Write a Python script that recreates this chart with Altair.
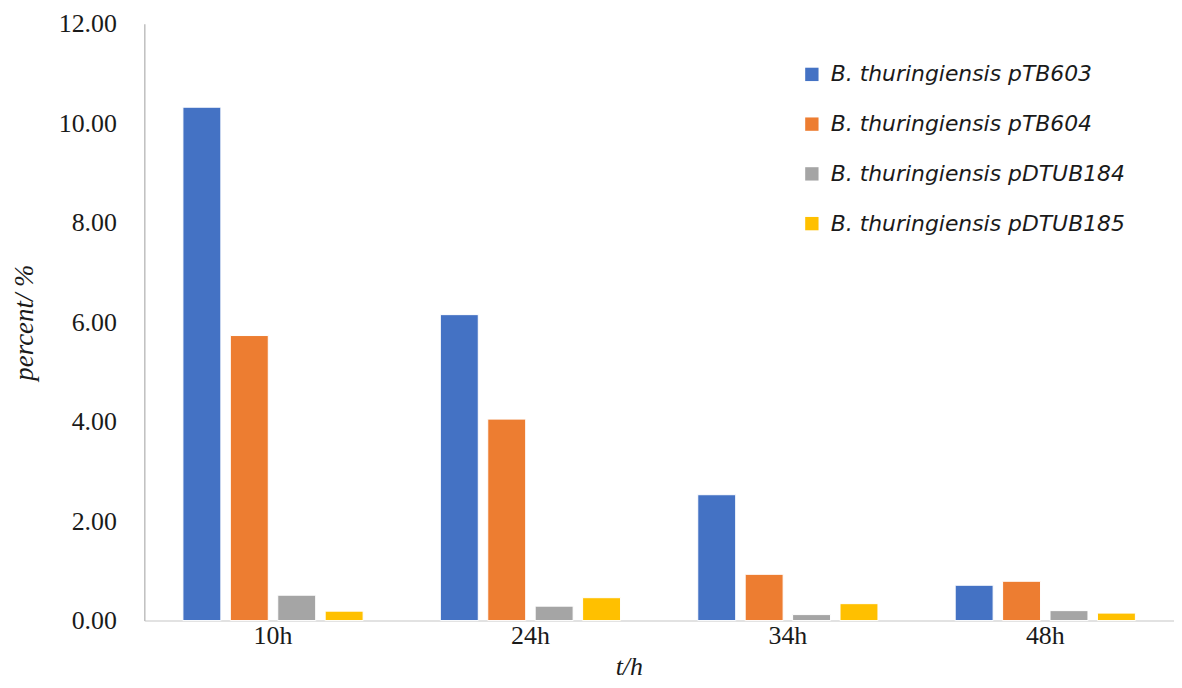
import altair as alt
import pandas as pd

times = ["10h", "24h", "34h", "48h"]
series = [
    "B. thuringiensis pTB603",
    "B. thuringiensis pTB604",
    "B. thuringiensis pDTUB184",
    "B. thuringiensis pDTUB185",
]
pTB603 = [10.32, 6.15, 2.53, 0.71]
pTB604 = [5.73, 4.05, 0.93, 0.79]
pDTUB184 = [0.51, 0.29, 0.12, 0.20]
pDTUB185 = [0.19, 0.46, 0.34, 0.15]
colors = ["#4472C4", "#ED7D31", "#A5A5A5", "#FFC000"]

SERIF = "Liberation Serif"

rows = []
for s, vals in zip(series, [pTB603, pTB604, pDTUB184, pDTUB185]):
    for t, v in zip(times, vals):
        rows.append({"time": t, "series": s, "value": v})
df = pd.DataFrame(rows)

chart = alt.Chart(df).mark_bar(stroke="white", strokeWidth=1).encode(
    x=alt.X("time:N", sort=times, title="t/h",
            scale=alt.Scale(paddingInner=0.3, paddingOuter=0.15),
            axis=alt.Axis(labelAngle=0, labelFont=SERIF, labelFontSize=26,
                          labelColor="#1a1a1a", labelPadding=2, ticks=False,
                          domainColor="#d9d9d9", domainWidth=1.5,
                          titleFont=SERIF, titleFontSize=26, titleFontStyle="italic",
                          titleFontWeight="normal", titleColor="#1a1a1a", titlePadding=5,
                          titleX=487)),
    xOffset=alt.XOffset("series:N", sort=series,
                        scale=alt.Scale(paddingInner=0.2, paddingOuter=0)),
    y=alt.Y("value:Q", title="percent/ %",
            scale=alt.Scale(domain=[0, 12], nice=False),
            axis=alt.Axis(values=[0, 2, 4, 6, 8, 10, 12], format=".2f", grid=False,
                          ticks=False, labelFont=SERIF, labelFontSize=26,
                          labelColor="#1a1a1a", labelPadding=28,
                          domainColor="#bfbfbf", domainWidth=1.5,
                          titleFont=SERIF, titleFontSize=27, titleFontStyle="italic",
                          titleFontWeight="normal", titleColor="#1a1a1a", titlePadding=20)),
    color=alt.Color("series:N", sort=series,
                    scale=alt.Scale(domain=series, range=colors),
                    legend=alt.Legend(title=None, orient="none", legendX=660, legendY=40,
                                      symbolType="square", symbolSize=180, symbolStrokeWidth=0,
                                      labelFont="DejaVu Sans", labelFontStyle="italic",
                                      labelFontSize=22, labelColor="#1a1a1a", labelLimit=500,
                                      rowPadding=28, labelOffset=8)),
).properties(
    width=1035, height=600,
    autosize=alt.AutoSizeParams(type="none"),
    padding={"left": 137, "top": 14, "right": 0, "bottom": 58},
).configure_view(stroke=None)

chart.save("out.html", embed_options={"renderer": "svg", "actions": False})
